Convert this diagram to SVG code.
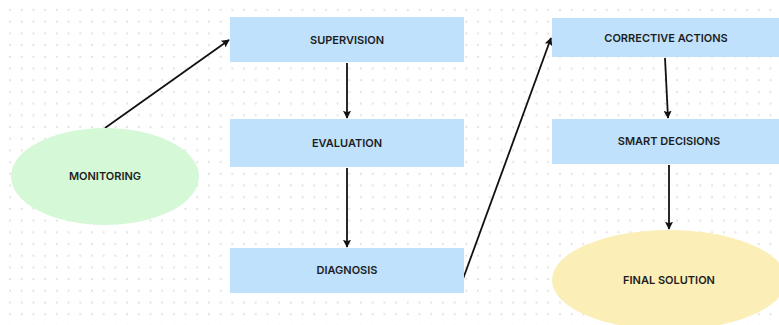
<svg xmlns="http://www.w3.org/2000/svg" width="779" height="325" viewBox="0 0 779 325">
  <style>
    .box { fill: #bfe1fb; }
    .lbl { font-family: Inter, "Liberation Sans", sans-serif; font-weight: 600; font-size: 11px; fill: #1d1d1f; text-anchor: middle; dominant-baseline: central; }
    .link { stroke: #111; stroke-width: 1.8; fill: none; marker-end: url(#arrow); }
  </style>
  <defs>
    <pattern id="dots" x="4.2" y="4.2" width="11.7" height="11.7" patternUnits="userSpaceOnUse">
      <circle cx="5.85" cy="5.85" r="1.1" fill="#e3e3e3"/>
    </pattern>
    <marker id="arrow" viewBox="0 0 10 10" refX="9" refY="5" markerWidth="4.5" markerHeight="4.5" orient="auto" markerUnits="strokeWidth">
      <path d="M0,0 L10,5 L0,10 L2,5 Z" fill="#111"/>
    </marker>
  </defs>

  <rect width="779" height="325" fill="#ffffff"/>
  <rect width="779" height="325" fill="url(#dots)"/>

  <g id="connectors">
    <line class="link" x1="105" y1="128" x2="229" y2="40"/>
    <line class="link" x1="347" y1="63" x2="347" y2="118"/>
    <line class="link" x1="347" y1="168" x2="347" y2="247"/>
    <line class="link" x1="463" y1="279" x2="551" y2="38"/>
    <line class="link" x1="665" y1="58" x2="668" y2="118"/>
    <line class="link" x1="669" y1="165" x2="669" y2="229"/>
  </g>

  <g id="monitoring">
    <ellipse cx="105" cy="176.5" rx="94" ry="48.5" fill="#d5f8d7"/>
    <text class="lbl" x="105" y="176">MONITORING</text>
  </g>
  <g id="supervision">
    <rect class="box" x="230" y="17" width="234" height="45"/>
    <text class="lbl" x="347" y="40">SUPERVISION</text>
  </g>
  <g id="evaluation">
    <rect class="box" x="230" y="119" width="234" height="48"/>
    <text class="lbl" x="347" y="143">EVALUATION</text>
  </g>
  <g id="diagnosis">
    <rect class="box" x="230" y="248" width="234" height="45"/>
    <text class="lbl" x="347" y="270">DIAGNOSIS</text>
  </g>
  <g id="corrective-actions">
    <rect class="box" x="552" y="18" width="232" height="39"/>
    <text class="lbl" x="666" y="38">CORRECTIVE ACTIONS</text>
  </g>
  <g id="smart-decisions">
    <rect class="box" x="552" y="119" width="232" height="45"/>
    <text class="lbl" x="669" y="141">SMART DECISIONS</text>
  </g>
  <g id="final-solution">
    <ellipse cx="669" cy="280" rx="117" ry="50" fill="#fbeeb6"/>
    <text class="lbl" x="669" y="280">FINAL SOLUTION</text>
  </g>
</svg>
